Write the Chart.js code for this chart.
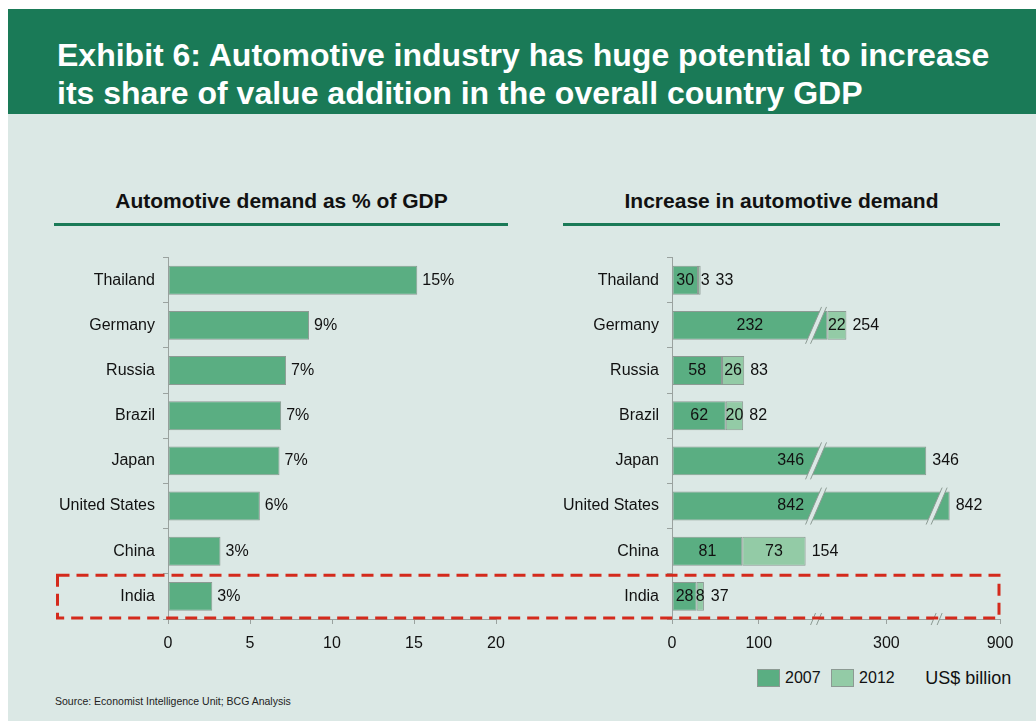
<!DOCTYPE html>
<html>
<head>
<meta charset="utf-8">
<script src="https://cdn.jsdelivr.net/npm/chart.js@4.4.0/dist/chart.umd.min.js"></script>
<style>
  html, body { margin: 0; padding: 0; background: #fff; }
  body { width: 1036px; height: 721px; position: relative; overflow: hidden;
         font-family: "Liberation Sans", Arial, sans-serif; }
  #panel { position: absolute; left: 8px; top: 9px; width: 1028px; height: 712px; background: #dbe8e5; }
  #band { position: absolute; left: 8px; top: 9px; width: 1028px; height: 105px; background: #1a7a57; }
  #title { position: absolute; left: 57px; top: 36px; color: #fff; font-weight: bold;
           font-size: 32px; line-height: 38px; white-space: nowrap; }
  .head { position: absolute; top: 189px; font-weight: bold; font-size: 21px; line-height: 24px;
          color: #111; text-align: center; white-space: nowrap; }
  .rule { position: absolute; top: 223px; height: 3px; background: #1a7a57; }
  canvas { position: absolute; }
  #legend { position: absolute; left: 757px; top: 669px; height: 18px; display: flex;
            align-items: center; font-size: 16px; color: #111; }
  #legend .box { width: 21px; height: 16px; border: 1px solid #8c9a93; margin-right: 5px; }
  #legend .txt { margin-right: 10.5px; }
  #legend .unit { font-size: 18px; margin-left: 20px; }
  #source { position: absolute; left: 55px; top: 695px; font-size: 10.5px; line-height: 12px; color: #222; }
  #overlay { position: absolute; left: 0; top: 0; pointer-events: none; }
</style>
</head>
<body>
<div id="panel"></div>
<div id="band"></div>
<div id="title">Exhibit 6: Automotive industry has huge potential to increase<br>its share of value addition in the overall country GDP</div>

<div class="head" style="left:55px;width:453px;">Automotive demand as % of GDP</div>
<div class="rule" style="left:54px;width:454px;"></div>
<div class="head" style="left:563px;width:437px;">Increase in automotive demand</div>
<div class="rule" style="left:563px;width:437px;"></div>

<canvas id="share" width="520" height="420" style="left:0;top:240px;"></canvas>
<canvas id="demand" width="516" height="420" style="left:520px;top:240px;"></canvas>

<div id="legend"></div>
<div id="source">Source: Economist Intelligence Unit; BCG Analysis</div>

<svg id="overlay" width="1036" height="721">
  <rect id="focus" fill="none" stroke="#d42a1c" stroke-width="3" stroke-dasharray="12 7"></rect>
</svg>

<script>
// categories shared by both panels
var countries = ['Thailand', 'Germany', 'Russia', 'Brazil', 'Japan', 'United States', 'China', 'India'];

// automotive demand as % of GDP
var gdpShare = [15.2, 8.6, 7.2, 6.9, 6.8, 5.6, 3.2, 2.7];

// automotive demand, US$ billion: 2007 level and the increase to 2012
var demand2007 = [30, 232, 57.6, 62, 346, 842, 81, 28.4];
var demand2012 = [3, 22, 25.6, 20, 0, 0, 73, 8.4];
var yearLabels = ['2007', '2012'];

// tick labels of the broken value axis
var axisTicks = [0, 100, 300, 900];

// the value axis skips these stretches
var breaks = [{ at: 166, gap: 53 }, { at: 358, gap: 469 }];

var FONT = '"Liberation Sans", Arial, sans-serif';
var TEXT = '#111';
var AXIS = '#9aa29f';
var BG = '#dbe8e5';
var DARK = '#5aae82';
var LIGHT = '#93cba6';
var EDGE = '#8c9a93';

Chart.defaults.font.family = FONT;
Chart.defaults.font.size = 16;
Chart.defaults.color = TEXT;

// real value -> position on the shortened axis
function toAxis(v) {
	var d = v;
	breaks.forEach(function (b) { if (v > b.at) d -= b.gap; });
	return d;
}

function slash(ctx, cx, top, bottom, lean, half) {
	ctx.beginPath();
	ctx.moveTo(cx - lean - half, bottom);
	ctx.lineTo(cx + lean - half, top);
	ctx.lineTo(cx + lean + half, top);
	ctx.lineTo(cx - lean + half, bottom);
	ctx.closePath();
	ctx.fillStyle = BG;
	ctx.fill();
	ctx.beginPath();
	ctx.moveTo(cx - lean - half, bottom);
	ctx.lineTo(cx + lean - half, top);
	ctx.moveTo(cx - lean + half, bottom);
	ctx.lineTo(cx + lean + half, top);
	ctx.strokeStyle = EDGE;
	ctx.lineWidth = 1;
	ctx.stroke();
}

var shareLabels = {
	id: 'shareLabels',
	afterDatasetsDraw: function (chart) {
		var ctx = chart.ctx;
		ctx.save();
		ctx.font = '16px ' + FONT;
		ctx.fillStyle = TEXT;
		ctx.textBaseline = 'middle';
		chart.getDatasetMeta(0).data.forEach(function (bar, i) {
			ctx.fillText(Math.round(gdpShare[i]) + '%', bar.x + 5, bar.y);
		});
		ctx.restore();
	}
};

var demandMarks = {
	id: 'demandMarks',
	afterDatasetsDraw: function (chart) {
		var ctx = chart.ctx;
		var xs = chart.scales.x;
		var cuts = breaks.map(function (b) { return xs.getPixelForValue(toAxis(b.at)); });
		var m07 = chart.getDatasetMeta(0);
		var m12 = chart.getDatasetMeta(1);
		ctx.save();

		// cut marks on the long bars
		m07.data.forEach(function (bar) {
			cuts.forEach(function (c) {
				if (c > bar.base && c < bar.x) {
					slash(ctx, c, bar.y - bar.height / 2 - 4, bar.y + bar.height / 2 + 4, 8, 2.5);
				}
			});
		});

		// cut marks on the axis line
		var ay = chart.chartArea.bottom;
		cuts.forEach(function (c) { slash(ctx, c, ay - 6, ay + 6, 2.5, 3); });

		ctx.font = '16px ' + FONT;
		ctx.fillStyle = TEXT;
		ctx.textBaseline = 'middle';
		m07.data.forEach(function (bar, i) {
			var y = bar.y;
			var t07 = String(Math.round(demand2007[i]));
			var w07 = ctx.measureText(t07).width;
			var cx = (bar.base + bar.x) / 2;
			cuts.forEach(function (c) {
				if (c > bar.base && c < bar.x && cx + w07 / 2 > c - 12) cx = c - 12 - w07 / 2;
			});
			ctx.textAlign = 'center';
			ctx.fillText(t07, cx, y);

			var end = bar.x;
			if (demand2012[i]) {
				var b12 = m12.data[i];
				var t12 = String(Math.round(demand2012[i]));
				var w12 = ctx.measureText(t12).width;
				var seg = b12.x - b12.base;
				if (seg >= w12 - 2) {
					ctx.fillText(t12, (b12.base + b12.x) / 2, y);
					end = Math.max(b12.x, (b12.base + b12.x) / 2 + w12 / 2);
				} else {
					ctx.textAlign = 'left';
					ctx.fillText(t12, b12.x, y);
					end = b12.x + w12;
				}
			}
			ctx.textAlign = 'left';
			ctx.fillText(String(Math.round(demand2007[i] + demand2012[i])), end + 6, y);
		});
		ctx.restore();
	}
};

var shareChart = new Chart(document.getElementById('share').getContext('2d'), {
	type: 'bar',
	data: {
		labels: countries,
		datasets: [{
			label: 'Automotive demand as % of GDP',
			data: gdpShare,
			backgroundColor: DARK,
			borderColor: EDGE,
			borderWidth: 1,
			borderSkipped: false,
			barPercentage: 0.8,
			categoryPercentage: 0.8
		}]
	},
	options: {
		indexAxis: 'y',
		responsive: false,
		animation: false,
		layout: { padding: { top: 14, right: 24, left: 0, bottom: 0 } },
		plugins: { legend: { display: false }, tooltip: { enabled: false } },
		scales: {
			x: {
				min: 0, max: 20,
				ticks: { stepSize: 5, padding: 10 },
				grid: { drawOnChartArea: false, tickLength: 5, color: AXIS },
				border: { color: AXIS },
				afterFit: function (s) { s.height = 41; }
			},
			y: {
				grid: { drawOnChartArea: false, tickLength: 5, color: AXIS, offset: true },
				border: { color: AXIS },
				ticks: { padding: 8 },
				afterFit: function (s) { s.width = 168; }
			}
		}
	},
	plugins: [shareLabels]
});

var demandChart = new Chart(document.getElementById('demand').getContext('2d'), {
	type: 'bar',
	data: {
		labels: countries,
		datasets: [{
			label: yearLabels[0],
			data: demand2007.map(function (v) { return [0, toAxis(v)]; }),
			backgroundColor: DARK
		}, {
			label: yearLabels[1],
			data: demand2012.map(function (v, i) {
				return v ? [toAxis(demand2007[i]), toAxis(demand2007[i] + v)] : null;
			}),
			backgroundColor: LIGHT
		}]
	},
	options: {
		indexAxis: 'y',
		responsive: false,
		animation: false,
		datasets: {
			bar: {
				grouped: false,
				borderColor: EDGE,
				borderWidth: 1,
				borderSkipped: false,
				barPercentage: 0.8,
				categoryPercentage: 0.8
			}
		},
		layout: { padding: { top: 14, right: 36, left: 0, bottom: 0 } },
		plugins: { legend: { display: false }, tooltip: { enabled: false } },
		scales: {
			x: {
				min: 0, max: toAxis(axisTicks[axisTicks.length - 1]),
				afterBuildTicks: function (s) {
					s.ticks = axisTicks.map(function (v) { return { value: toAxis(v) }; });
				},
				ticks: {
					padding: 10,
					callback: function (value, index) { return axisTicks[index]; }
				},
				grid: { drawOnChartArea: false, tickLength: 5, color: AXIS },
				border: { color: AXIS },
				afterFit: function (s) { s.height = 41; }
			},
			y: {
				grid: { drawOnChartArea: false, tickLength: 5, color: AXIS, offset: true },
				border: { color: AXIS },
				ticks: { padding: 8 },
				afterFit: function (s) { s.width = 152; }
			}
		}
	},
	plugins: [demandMarks]
});

// legend built from the demand datasets
var legend = document.getElementById('legend');
demandChart.data.datasets.forEach(function (ds) {
	var box = document.createElement('span');
	box.className = 'box';
	box.style.background = ds.backgroundColor;
	var txt = document.createElement('span');
	txt.className = 'txt';
	txt.textContent = ds.label;
	legend.appendChild(box);
	legend.appendChild(txt);
});
var unit = document.createElement('span');
unit.className = 'unit';
unit.textContent = 'US$ billion';
legend.appendChild(unit);

// dashed frame around the India row, spanning both panels
var ys = shareChart.scales.y;
var rowH = (ys.bottom - ys.top) / countries.length;
var rowTop = 240 + ys.getPixelForValue(countries.indexOf('India')) - rowH / 2 + 1.5;
var rowBottom = 240 + ys.bottom - 1;
var frameRight = 520 + demandChart.scales.x.right - 1;
var focus = document.getElementById('focus');
focus.setAttribute('x', 57.5);
focus.setAttribute('y', rowTop);
focus.setAttribute('width', frameRight - 57.5);
focus.setAttribute('height', rowBottom - rowTop);
</script>
</body>
</html>
